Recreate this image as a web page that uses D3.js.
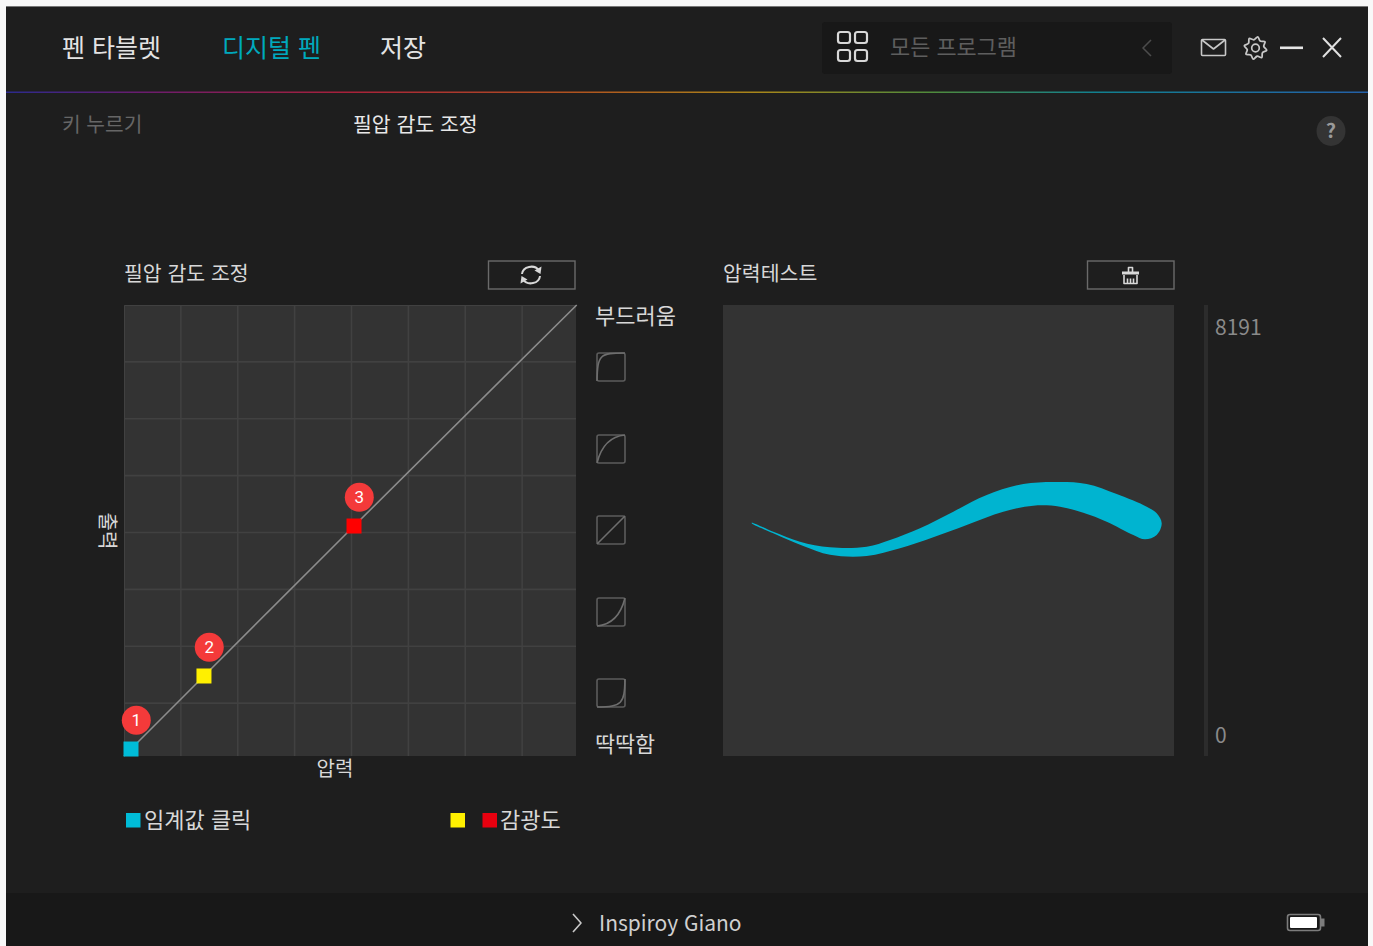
<!DOCTYPE html>
<html lang="ko"><head><meta charset="utf-8">
<script src="https://cdn.jsdelivr.net/npm/d3@7"></script>
<style>
html,body{margin:0;padding:0;background:#f8f8f8;overflow:hidden}
svg{display:block}
text{font-family:"Noto Sans CJK KR","Noto Sans",sans-serif}
</style></head><body><div id="chart"></div>
<script>
// ---- data ----
const gridValues = [1,2,3,4,5,6,7];
const curveX = [0, 0.123, 1.406, 4.044, 7.96];
const curveY = [0.07, 0.193, 1.477, 4.114, 8];
const handleIds = [1,2,3];
const handleX = [0.123, 1.406, 4.044];
const handleY = [0.193, 1.477, 4.114];
const handleColors = ["#00bcd8","#fff000","#ff0000"];
const strokeTopX = [28.7,50.3,77,107,143.7,167,197,230.3,263.7,300.3,337,363.7,393.7,423.7,433.7,438.7];
const strokeTopY = [233.3,224.3,214.3,208.7,209.3,216,227.7,244.3,261,272,274,272,262,249.3,242.7,232.7];
const strokeBottomX = [433.7,422,410.3,383.7,360.3,337,310.3,280.3,243.7,210.3,177,143.7,107,80.3,50.3,28.7];
const strokeBottomY = [221,216.7,221,234.3,243.2,249.3,250.3,244.3,231,218.7,207.7,200,201.2,210,222.7,232.7];
const navLabels = ["펜 타블렛","디지털 펜","저장"];
const subLabels = ["키 누르기","필압 감도 조정"];
const smoothLevels = [[0.02,0.95,0.1,1],[0.15,0.6,0.45,0.95],[0.33,0.33,0.67,0.67],[0.55,0.05,0.85,0.4],[0.9,0.02,0.98,0.1]];

const W=1373,H=946;
const svg=d3.select("#chart").append("svg").attr("width",W).attr("height",H);
const tx=(x,y,s,size,fill,anchor,extra)=>{const t=svg.append("text").attr("x",x).attr("y",y).attr("font-size",size).attr("fill",fill).attr("text-anchor",anchor||"start").text(s);if(extra)extra(t);return t;};

// window
svg.append("rect").attr("x",6).attr("y",6).attr("width",1362).attr("height",940).attr("fill","#1e1e1e");
svg.append("rect").attr("x",6).attr("y",6).attr("width",1362).attr("height",1).attr("fill","#777");
svg.append("rect").attr("x",6).attr("y",893).attr("width",1362).attr("height",53).attr("fill","#181818");

// rainbow rule
const grad=svg.append("defs").append("linearGradient").attr("id","rb");
[[0,"#2b2a8c"],[0.1,"#6a1c6e"],[0.25,"#a8213a"],[0.42,"#b0541f"],[0.55,"#a8861a"],[0.68,"#4f8a3c"],[0.8,"#12808f"],[1,"#2460a8"]]
 .forEach(d=>grad.append("stop").attr("offset",d[0]).attr("stop-color",d[1]));
svg.append("rect").attr("x",6).attr("y",91.5).attr("width",1362).attr("height",1.5).attr("fill","url(#rb)");

// nav
[62,222,380].forEach((x,i)=>tx(x,57,navLabels[i],25,i==1?"#00a9bd":"#e4e4e4"));
tx(62,132,subLabels[0],20.3,"#666");
tx(353,132,subLabels[1],20.5,"#e8e8e8");

// program box
svg.append("rect").attr("x",822).attr("y",22).attr("width",350).attr("height",52).attr("rx",3).attr("fill","#181818");
[[838,32],[855,32],[838,50],[855,50]].forEach(p=>svg.append("rect").attr("x",p[0]).attr("y",p[1]).attr("width",12).attr("height",11).attr("rx",2.5).attr("fill","none").attr("stroke","#d8d8d8").attr("stroke-width",2.2));
tx(890,55,"모든 프로그램",21.9,"#5e5e5e");
const ln=(d,c,w)=>svg.append("path").attr("d",d).attr("fill","none").attr("stroke",c).attr("stroke-width",w).attr("stroke-linejoin","round");
ln("M1151,40L1143,48L1151,56","#4c4c4c",1.6);
// mail
svg.append("rect").attr("x",1201.5).attr("y",39.5).attr("width",24).attr("height",16).attr("rx",1).attr("fill","none").attr("stroke","#c8c8c8").attr("stroke-width",1.6);
ln("M1202,40L1213.5,49L1225,40","#c8c8c8",1.6);
// gear
const gear=d3.range(0,16).map(i=>{const a=i/16*2*Math.PI,r=(i%2)?8.4:11.4;return [1255.5+r*Math.cos(a+0.2),48+r*Math.sin(a+0.2)];});
svg.append("path").attr("d",d3.line().curve(d3.curveCatmullRomClosed.alpha(0.5))(gear)).attr("fill","none").attr("stroke","#c8c8c8").attr("stroke-width",1.8);
svg.append("circle").attr("cx",1255.5).attr("cy",48).attr("r",3.8).attr("fill","none").attr("stroke","#c8c8c8").attr("stroke-width",1.7);
svg.append("rect").attr("x",1280).attr("y",46.5).attr("width",23).attr("height",2.6).attr("fill","#e6e6e6");
ln("M1323,38L1341,57M1341,38L1323,57","#e0e0e0",2);
// help
svg.append("ellipse").attr("cx",1331).attr("cy",131).attr("rx",14.5).attr("ry",15).attr("fill","#343434");
tx(1331,138,"?",20,"#9a9a9a","middle",t=>t.attr("font-weight",700));

// section titles
tx(124,281,"필압 감도 조정",20.5,"#d8d8d8");
tx(723,281,"압력테스트",20.5,"#d8d8d8");
[488,1087].forEach(x=>svg.append("rect").attr("x",x+.5).attr("y",261).attr("width",86.5).attr("height",28).attr("fill","none").attr("stroke","#6a6a6a").attr("stroke-width",1.4));
// refresh icon
ln("M522,274A9.2,8 0 0 1 539,270.5","#d8d8d8",2);
ln("M540,276A9.2,8 0 0 1 523,279.5","#d8d8d8",2);
svg.append("path").attr("d","M541.5,266.5L540.5,274L534.5,270.5Z").attr("fill","#d8d8d8");
svg.append("path").attr("d","M520.5,283.5L521.5,276L527.5,279.5Z").attr("fill","#d8d8d8");
// brush icon
ln("M1128.5,272V267.5H1132.5V272","#d8d8d8",1.6);
svg.append("rect").attr("x",1122).attr("y",271.5).attr("width",17).attr("height",3).attr("fill","#d8d8d8");
ln("M1124,275V283.5H1137V275M1127.5,278.5V283M1130.5,278.5V283M1133.5,278.5V283","#d8d8d8",1.6);

// chart 1
const x=d3.scaleLinear().domain([0,8]).range([124,579]);
const y=d3.scaleLinear().domain([0,8]).range([760,305]);
const defs=svg.select("defs");
defs.append("clipPath").attr("id","pc").append("rect").attr("x",124).attr("y",305).attr("width",452).attr("height",451);
svg.append("rect").attr("x",124).attr("y",305).attr("width",452).attr("height",451).attr("fill","#333333");
const g=svg.append("g").attr("clip-path","url(#pc)");
const gridColor="#414141";
g.selectAll(".gv").data(gridValues).join("line").attr("x1",d=>x(d)).attr("x2",d=>x(d)).attr("y1",305).attr("y2",756).attr("stroke",gridColor).attr("stroke-width",1.6);
g.selectAll(".gh").data(gridValues).join("line").attr("y1",d=>y(d)).attr("y2",d=>y(d)).attr("x1",124).attr("x2",576).attr("stroke",gridColor).attr("stroke-width",1.6);
svg.append("path").attr("d","M124.5,756V305.5H576").attr("fill","none").attr("stroke",gridColor).attr("stroke-width",1);
svg.append("path").datum(curveX.map((d,i)=>[d,curveY[i]])).attr("d",d3.line().x(d=>x(d[0])).y(d=>y(d[1]))).attr("fill","none").attr("stroke","#8c8c8c").attr("stroke-width",1.6);
const size=15;
handleIds.forEach((id,i)=>{
  const cx=x(handleX[i]),cy=y(handleY[i]);
  svg.append("rect").attr("x",cx-size/2).attr("y",cy-size/2).attr("width",size).attr("height",size).attr("fill",handleColors[i]);
  svg.append("circle").attr("cx",cx+5.3).attr("cy",cy-28.8).attr("r",14.5).attr("fill","#f43a3a");
  tx(cx+5.3,cy-22.8,String(id),17,"#fff","middle",t=>t.style("font-family","Roboto"));
});
tx(335,776,"압력",20,"#d8d8d8","middle");
tx(107,531,"출력",20,"#d8d8d8","middle",t=>t.attr("transform","rotate(90 107 531)").attr("dy",7));

// legend
[[126,"#00bcd8"],[450.5,"#fff000"],[482.5,"#e8000f"]].forEach(d=>svg.append("rect").attr("x",d[0]).attr("y",813).attr("width",14.5).attr("height",14.5).attr("fill",d[1]));
tx(144,827.5,"임계값 클릭",22,"#d8d8d8");
tx(500,827.5,"감광도",22,"#d8d8d8");

// smooth column
tx(595,323.5,"부드러움",22,"#d8d8d8");
tx(595,751.5,"딱딱함",21.8,"#d8d8d8");
const iconY=[353,435,516,598,679];
const ix=d3.scaleLinear().domain([0,1]).range([597,625]);
smoothLevels.forEach((c,i)=>{
  const iy=d3.scaleLinear().domain([0,1]).range([iconY[i]+28,iconY[i]]);
  svg.append("rect").attr("x",597).attr("y",iconY[i]).attr("width",28).attr("height",28).attr("rx",2).attr("fill","none").attr("stroke","#5c5c5c").attr("stroke-width",1.6);
  const p=d3.path();p.moveTo(ix(0),iy(0));p.bezierCurveTo(ix(c[0]),iy(c[1]),ix(c[2]),iy(c[3]),ix(1),iy(1));
  svg.append("path").attr("d",p.toString()).attr("fill","none").attr("stroke","#6e6e6e").attr("stroke-width",1.6);
});

// pressure test panel
svg.append("rect").attr("x",723).attr("y",305).attr("width",451).attr("height",451).attr("fill","#333333");
const sx=d3.scaleLinear().domain([0,451]).range([723,1174]);
const sy=d3.scaleLinear().domain([0,451]).range([756,305]);
const outline=strokeTopX.map((d,i)=>[d,strokeTopY[i]]);
const outlineB=strokeBottomX.map((d,i)=>[d,strokeBottomY[i]]);
svg.append("path").datum(outline.concat(outlineB)).attr("d",d3.line().x(d=>sx(d[0])).y(d=>sy(d[1])).curve(d3.curveCatmullRomClosed.alpha(0.5))).attr("fill","#00b4d0");

// slider
svg.append("rect").attr("x",1204).attr("y",305).attr("width",4).attr("height",451).attr("fill","#2c2c2c");
tx(1215,335,"8191",21,"#8a8a8a");
tx(1215,743,"0",21,"#8a8a8a");

// footer
ln("M573,914L581,923L573,932","#c8c8c8",1.6);
tx(599,931,"Inspiroy Giano",21,"#d0d0d0");
svg.append("rect").attr("x",1287.5).attr("y",914.5).attr("width",33).attr("height",16).attr("rx",2.5).attr("fill","none").attr("stroke","#7c7c7c").attr("stroke-width",1.6);
svg.append("rect").attr("x",1290).attr("y",917).attr("width",27).attr("height",11).attr("rx",1).attr("fill","#fff");
svg.append("rect").attr("x",1321).attr("y",918.5).attr("width",3.5).attr("height",8).attr("fill","#7c7c7c");
</script></body></html>
